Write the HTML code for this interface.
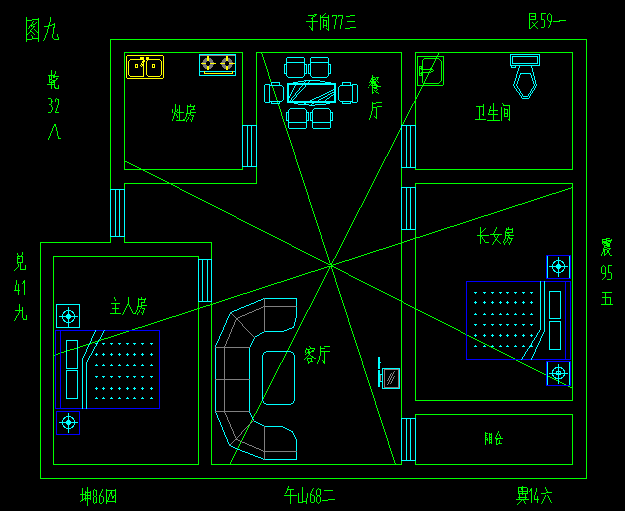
<!DOCTYPE html>
<html><head><meta charset="utf-8"><style>
html,body{margin:0;padding:0;background:#000;width:625px;height:511px;overflow:hidden}
svg{display:block}
</style></head><body>
<svg width="625" height="511" viewBox="0 0 625 511" fill="none" stroke-width="1" stroke-linecap="square" shape-rendering="crispEdges">
<rect width="625" height="511" fill="#000"/>
<path d="M261,52v2h1v-2zM262,54v3h1v-3zM263,57v3h1v-3zM264,60v3h1v-3zM265,63v3h1v-3zM266,66v3h1v-3zM267,69v3h1v-3zM268,72v4h1v-4zM269,76v3h1v-3zM270,79v3h1v-3zM271,82v3h1v-3zM272,85v3h1v-3zM273,88v3h1v-3zM274,91v3h1v-3zM275,94v3h1v-3zM276,97v3h1v-3zM277,100v3h1v-3zM278,103v3h1v-3zM279,106v3h1v-3zM280,109v3h1v-3zM281,112v4h1v-4zM282,116v3h1v-3zM283,119v3h1v-3zM284,122v3h1v-3zM285,125v3h1v-3zM286,128v3h1v-3zM287,131v3h1v-3zM288,134v3h1v-3zM289,137v3h1v-3zM290,140v3h1v-3zM291,143v3h1v-3zM292,146v3h1v-3zM293,149v3h1v-3zM294,152v3h1v-3zM295,155v4h1v-4zM296,159v3h1v-3zM297,162v3h1v-3zM298,165v3h1v-3zM299,168v3h1v-3zM300,171v3h1v-3zM301,174v3h1v-3zM302,177v3h1v-3zM303,180v3h1v-3zM304,183v3h1v-3zM305,186v3h1v-3zM306,189v3h1v-3zM307,192v3h1v-3zM308,195v4h1v-4zM309,199v3h1v-3zM310,202v3h1v-3zM311,205v3h1v-3zM312,208v3h1v-3zM313,211v3h1v-3zM314,214v3h1v-3zM315,217v3h1v-3zM316,220v3h1v-3zM317,223v3h1v-3zM318,226v3h1v-3zM319,229v3h1v-3zM320,232v3h1v-3zM321,235v4h1v-4zM322,239v3h1v-3zM323,242v3h1v-3zM324,245v3h1v-3zM325,248v3h1v-3zM326,251v3h1v-3zM327,254v3h1v-3zM328,257v3h1v-3zM329,260v3h1v-3zM330,263v3h1v-3zM331,266v3h1v-3zM332,269v3h1v-3zM333,272v3h1v-3zM334,275v3h1v-3zM335,278v4h1v-4zM336,282v3h1v-3zM337,285v3h1v-3zM338,288v3h1v-3zM339,291v3h1v-3zM340,294v3h1v-3zM341,297v3h1v-3zM342,300v3h1v-3zM343,303v3h1v-3zM344,306v3h1v-3zM345,309v3h1v-3zM346,312v3h1v-3zM347,315v3h1v-3zM348,318v4h1v-4zM349,322v3h1v-3zM350,325v3h1v-3zM351,328v3h1v-3zM352,331v3h1v-3zM353,334v3h1v-3zM354,337v3h1v-3zM355,340v3h1v-3zM356,343v3h1v-3zM357,346v3h1v-3zM358,349v3h1v-3zM359,352v3h1v-3zM360,355v3h1v-3zM361,358v3h1v-3zM362,361v4h1v-4zM363,365v3h1v-3zM364,368v3h1v-3zM365,371v3h1v-3zM366,374v3h1v-3zM367,377v3h1v-3zM368,380v3h1v-3zM369,383v3h1v-3zM370,386v3h1v-3zM371,389v3h1v-3zM372,392v3h1v-3zM373,395v3h1v-3zM374,398v3h1v-3zM375,401v4h1v-4zM376,405v3h1v-3zM377,408v3h1v-3zM378,411v3h1v-3zM379,414v3h1v-3zM380,417v3h1v-3zM381,420v3h1v-3zM382,423v3h1v-3zM383,426v3h1v-3zM384,429v3h1v-3zM385,432v3h1v-3zM386,435v3h1v-3zM387,438v3h1v-3zM388,441v4h1v-4zM389,445v3h1v-3zM390,448v3h1v-3zM391,451v3h1v-3zM392,454v3h1v-3zM393,457v3h1v-3zM394,460v3h1v-3zM395,463v2h1v-2zM439,52v1h1v-1zM438,53v2h1v-2zM437,55v2h1v-2zM436,57v2h1v-2zM435,59v2h1v-2zM434,61v2h1v-2zM433,63v2h1v-2zM432,65v2h1v-2zM431,67v2h1v-2zM430,69v2h1v-2zM429,71v2h1v-2zM428,73v2h1v-2zM427,75v2h1v-2zM426,77v2h1v-2zM425,79v2h1v-2zM424,81v2h1v-2zM423,83v2h1v-2zM422,85v2h1v-2zM421,87v2h1v-2zM420,89v2h1v-2zM419,91v2h1v-2zM418,93v2h1v-2zM417,95v2h1v-2zM416,97v2h1v-2zM415,99v2h1v-2zM414,101v2h1v-2zM413,103v1h1v-1zM412,104v2h1v-2zM411,106v2h1v-2zM410,108v2h1v-2zM409,110v2h1v-2zM408,112v2h1v-2zM407,114v2h1v-2zM406,116v2h1v-2zM405,118v2h1v-2zM404,120v2h1v-2zM403,122v2h1v-2zM402,124v2h1v-2zM401,126v2h1v-2zM400,128v2h1v-2zM399,130v2h1v-2zM398,132v2h1v-2zM397,134v2h1v-2zM396,136v2h1v-2zM395,138v2h1v-2zM394,140v2h1v-2zM393,142v2h1v-2zM392,144v2h1v-2zM391,146v2h1v-2zM390,148v2h1v-2zM389,150v2h1v-2zM388,152v2h1v-2zM387,154v2h1v-2zM386,156v1h1v-1zM385,157v2h1v-2zM384,159v2h1v-2zM383,161v2h1v-2zM382,163v2h1v-2zM381,165v2h1v-2zM380,167v2h1v-2zM379,169v2h1v-2zM378,171v2h1v-2zM377,173v2h1v-2zM376,175v2h1v-2zM375,177v2h1v-2zM374,179v2h1v-2zM373,181v2h1v-2zM372,183v2h1v-2zM371,185v2h1v-2zM370,187v2h1v-2zM369,189v2h1v-2zM368,191v2h1v-2zM367,193v2h1v-2zM366,195v2h1v-2zM365,197v2h1v-2zM364,199v2h1v-2zM363,201v2h1v-2zM362,203v2h1v-2zM361,205v2h1v-2zM360,207v1h1v-1zM359,208v2h1v-2zM358,210v2h1v-2zM357,212v2h1v-2zM356,214v2h1v-2zM355,216v2h1v-2zM354,218v2h1v-2zM353,220v2h1v-2zM352,222v2h1v-2zM351,224v2h1v-2zM350,226v2h1v-2zM349,228v2h1v-2zM348,230v2h1v-2zM347,232v2h1v-2zM346,234v2h1v-2zM345,236v2h1v-2zM344,238v2h1v-2zM343,240v2h1v-2zM342,242v2h1v-2zM341,244v2h1v-2zM340,246v2h1v-2zM339,248v2h1v-2zM338,250v2h1v-2zM337,252v2h1v-2zM336,254v2h1v-2zM335,256v2h1v-2zM334,258v1h1v-1zM333,259v2h1v-2zM332,261v2h1v-2zM331,263v2h1v-2zM330,265v2h1v-2zM329,267v2h1v-2zM328,269v2h1v-2zM327,271v2h1v-2zM326,273v2h1v-2zM325,275v2h1v-2zM324,277v2h1v-2zM323,279v2h1v-2zM322,281v2h1v-2zM321,283v2h1v-2zM320,285v2h1v-2zM319,287v2h1v-2zM318,289v2h1v-2zM317,291v2h1v-2zM316,293v2h1v-2zM315,295v2h1v-2zM314,297v2h1v-2zM313,299v2h1v-2zM312,301v2h1v-2zM311,303v2h1v-2zM310,305v2h1v-2zM309,307v2h1v-2zM308,309v1h1v-1zM307,310v2h1v-2zM306,312v2h1v-2zM305,314v2h1v-2zM304,316v2h1v-2zM303,318v2h1v-2zM302,320v2h1v-2zM301,322v2h1v-2zM300,324v2h1v-2zM299,326v2h1v-2zM298,328v2h1v-2zM297,330v2h1v-2zM296,332v2h1v-2zM295,334v2h1v-2zM294,336v2h1v-2zM293,338v2h1v-2zM292,340v2h1v-2zM291,342v2h1v-2zM290,344v2h1v-2zM289,346v2h1v-2zM288,348v2h1v-2zM287,350v2h1v-2zM286,352v2h1v-2zM285,354v2h1v-2zM284,356v2h1v-2zM283,358v2h1v-2zM282,360v2h1v-2zM281,362v1h1v-1zM280,363v2h1v-2zM279,365v2h1v-2zM278,367v2h1v-2zM277,369v2h1v-2zM276,371v2h1v-2zM275,373v2h1v-2zM274,375v2h1v-2zM273,377v2h1v-2zM272,379v2h1v-2zM271,381v2h1v-2zM270,383v2h1v-2zM269,385v2h1v-2zM268,387v2h1v-2zM267,389v2h1v-2zM266,391v2h1v-2zM265,393v2h1v-2zM264,395v2h1v-2zM263,397v2h1v-2zM262,399v2h1v-2zM261,401v2h1v-2zM260,403v2h1v-2zM259,405v2h1v-2zM258,407v2h1v-2zM257,409v2h1v-2zM256,411v2h1v-2zM255,413v1h1v-1zM254,414v2h1v-2zM253,416v2h1v-2zM252,418v2h1v-2zM251,420v2h1v-2zM250,422v2h1v-2zM249,424v2h1v-2zM248,426v2h1v-2zM247,428v2h1v-2zM246,430v2h1v-2zM245,432v2h1v-2zM244,434v2h1v-2zM243,436v2h1v-2zM242,438v2h1v-2zM241,440v2h1v-2zM240,442v2h1v-2zM239,444v2h1v-2zM238,446v2h1v-2zM237,448v2h1v-2zM236,450v2h1v-2zM235,452v2h1v-2zM234,454v2h1v-2zM233,456v2h1v-2zM232,458v2h1v-2zM231,460v2h1v-2zM230,462v2h1v-2zM229,464v1h1v-1zM124,160h1v1h-1zM125,161h2v1h-2zM127,162h2v1h-2zM129,163h2v1h-2zM131,164h2v1h-2zM133,165h2v1h-2zM135,166h2v1h-2zM137,167h2v1h-2zM139,168h2v1h-2zM141,169h2v1h-2zM143,170h2v1h-2zM145,171h2v1h-2zM147,172h2v1h-2zM149,173h2v1h-2zM151,174h2v1h-2zM153,175h2v1h-2zM155,176h2v1h-2zM157,177h2v1h-2zM159,178h2v1h-2zM161,179h2v1h-2zM163,180h2v1h-2zM165,181h2v1h-2zM167,182h2v1h-2zM169,183h2v1h-2zM171,184h2v1h-2zM173,185h2v1h-2zM175,186h2v1h-2zM177,187h2v1h-2zM179,188h1v1h-1zM180,189h2v1h-2zM182,190h2v1h-2zM184,191h2v1h-2zM186,192h2v1h-2zM188,193h2v1h-2zM190,194h2v1h-2zM192,195h2v1h-2zM194,196h2v1h-2zM196,197h2v1h-2zM198,198h2v1h-2zM200,199h2v1h-2zM202,200h2v1h-2zM204,201h2v1h-2zM206,202h2v1h-2zM208,203h2v1h-2zM210,204h2v1h-2zM212,205h2v1h-2zM214,206h2v1h-2zM216,207h2v1h-2zM218,208h2v1h-2zM220,209h2v1h-2zM222,210h2v1h-2zM224,211h2v1h-2zM226,212h2v1h-2zM228,213h2v1h-2zM230,214h2v1h-2zM232,215h2v1h-2zM234,216h2v1h-2zM236,217h1v1h-1zM237,218h2v1h-2zM239,219h2v1h-2zM241,220h2v1h-2zM243,221h2v1h-2zM245,222h2v1h-2zM247,223h2v1h-2zM249,224h2v1h-2zM251,225h2v1h-2zM253,226h2v1h-2zM255,227h2v1h-2zM257,228h2v1h-2zM259,229h2v1h-2zM261,230h2v1h-2zM263,231h2v1h-2zM265,232h2v1h-2zM267,233h2v1h-2zM269,234h2v1h-2zM271,235h2v1h-2zM273,236h2v1h-2zM275,237h2v1h-2zM277,238h2v1h-2zM279,239h2v1h-2zM281,240h2v1h-2zM283,241h2v1h-2zM285,242h2v1h-2zM287,243h2v1h-2zM289,244h2v1h-2zM291,245h1v1h-1zM292,246h2v1h-2zM294,247h2v1h-2zM296,248h2v1h-2zM298,249h2v1h-2zM300,250h2v1h-2zM302,251h2v1h-2zM304,252h2v1h-2zM306,253h2v1h-2zM308,254h2v1h-2zM310,255h2v1h-2zM312,256h2v1h-2zM314,257h2v1h-2zM316,258h2v1h-2zM318,259h2v1h-2zM320,260h2v1h-2zM322,261h2v1h-2zM324,262h2v1h-2zM326,263h2v1h-2zM328,264h2v1h-2zM330,265h2v1h-2zM332,266h2v1h-2zM334,267h2v1h-2zM336,268h2v1h-2zM338,269h2v1h-2zM340,270h2v1h-2zM342,271h2v1h-2zM344,272h2v1h-2zM346,273h2v1h-2zM348,274h1v1h-1zM349,275h2v1h-2zM351,276h2v1h-2zM353,277h2v1h-2zM355,278h2v1h-2zM357,279h2v1h-2zM359,280h2v1h-2zM361,281h2v1h-2zM363,282h2v1h-2zM365,283h2v1h-2zM367,284h2v1h-2zM369,285h2v1h-2zM371,286h2v1h-2zM373,287h2v1h-2zM375,288h2v1h-2zM377,289h2v1h-2zM379,290h2v1h-2zM381,291h2v1h-2zM383,292h2v1h-2zM385,293h2v1h-2zM387,294h2v1h-2zM389,295h2v1h-2zM391,296h2v1h-2zM393,297h2v1h-2zM395,298h2v1h-2zM397,299h2v1h-2zM399,300h2v1h-2zM401,301h2v1h-2zM403,302h1v1h-1zM404,303h2v1h-2zM406,304h2v1h-2zM408,305h2v1h-2zM410,306h2v1h-2zM412,307h2v1h-2zM414,308h2v1h-2zM416,309h2v1h-2zM418,310h2v1h-2zM420,311h2v1h-2zM422,312h2v1h-2zM424,313h2v1h-2zM426,314h2v1h-2zM428,315h2v1h-2zM430,316h2v1h-2zM432,317h2v1h-2zM434,318h2v1h-2zM436,319h2v1h-2zM438,320h2v1h-2zM440,321h2v1h-2zM442,322h2v1h-2zM444,323h2v1h-2zM446,324h2v1h-2zM448,325h2v1h-2zM450,326h2v1h-2zM452,327h2v1h-2zM454,328h2v1h-2zM456,329h2v1h-2zM458,330h2v1h-2zM460,331h1v1h-1zM461,332h2v1h-2zM463,333h2v1h-2zM465,334h2v1h-2zM467,335h2v1h-2zM469,336h2v1h-2zM471,337h2v1h-2zM473,338h2v1h-2zM475,339h2v1h-2zM477,340h2v1h-2zM479,341h2v1h-2zM481,342h2v1h-2zM483,343h2v1h-2zM485,344h2v1h-2zM487,345h2v1h-2zM489,346h2v1h-2zM491,347h2v1h-2zM493,348h2v1h-2zM495,349h2v1h-2zM497,350h2v1h-2zM499,351h2v1h-2zM501,352h2v1h-2zM503,353h2v1h-2zM505,354h2v1h-2zM507,355h2v1h-2zM509,356h2v1h-2zM511,357h2v1h-2zM513,358h2v1h-2zM515,359h1v1h-1zM516,360h2v1h-2zM518,361h2v1h-2zM520,362h2v1h-2zM522,363h2v1h-2zM524,364h2v1h-2zM526,365h2v1h-2zM528,366h2v1h-2zM530,367h2v1h-2zM532,368h2v1h-2zM534,369h2v1h-2zM536,370h2v1h-2zM538,371h2v1h-2zM540,372h2v1h-2zM542,373h2v1h-2zM544,374h2v1h-2zM546,375h2v1h-2zM548,376h2v1h-2zM550,377h2v1h-2zM552,378h2v1h-2zM554,379h2v1h-2zM556,380h2v1h-2zM558,381h2v1h-2zM560,382h2v1h-2zM562,383h2v1h-2zM564,384h2v1h-2zM566,385h2v1h-2zM568,386h2v1h-2zM570,387h2v1h-2zM572,388h1v1h-1zM53,355h2v1h-2zM55,354h3v1h-3zM58,353h3v1h-3zM61,352h3v1h-3zM64,351h3v1h-3zM67,350h3v1h-3zM70,349h4v1h-4zM74,348h3v1h-3zM77,347h3v1h-3zM80,346h3v1h-3zM83,345h3v1h-3zM86,344h3v1h-3zM89,343h3v1h-3zM92,342h3v1h-3zM95,341h3v1h-3zM98,340h3v1h-3zM101,339h3v1h-3zM104,338h4v1h-4zM108,337h3v1h-3zM111,336h3v1h-3zM114,335h3v1h-3zM117,334h3v1h-3zM120,333h3v1h-3zM123,332h3v1h-3zM126,331h3v1h-3zM129,330h3v1h-3zM132,329h3v1h-3zM135,328h3v1h-3zM138,327h4v1h-4zM142,326h3v1h-3zM145,325h3v1h-3zM148,324h3v1h-3zM151,323h3v1h-3zM154,322h3v1h-3zM157,321h3v1h-3zM160,320h3v1h-3zM163,319h3v1h-3zM166,318h3v1h-3zM169,317h3v1h-3zM172,316h4v1h-4zM176,315h3v1h-3zM179,314h3v1h-3zM182,313h3v1h-3zM185,312h3v1h-3zM188,311h3v1h-3zM191,310h3v1h-3zM194,309h3v1h-3zM197,308h3v1h-3zM200,307h3v1h-3zM203,306h3v1h-3zM206,305h4v1h-4zM210,304h3v1h-3zM213,303h3v1h-3zM216,302h3v1h-3zM219,301h3v1h-3zM222,300h3v1h-3zM225,299h3v1h-3zM228,298h3v1h-3zM231,297h3v1h-3zM234,296h3v1h-3zM237,295h3v1h-3zM240,294h3v1h-3zM243,293h4v1h-4zM247,292h3v1h-3zM250,291h3v1h-3zM253,290h3v1h-3zM256,289h3v1h-3zM259,288h3v1h-3zM262,287h3v1h-3zM265,286h3v1h-3zM268,285h3v1h-3zM271,284h3v1h-3zM274,283h3v1h-3zM277,282h4v1h-4zM281,281h3v1h-3zM284,280h3v1h-3zM287,279h3v1h-3zM290,278h3v1h-3zM293,277h3v1h-3zM296,276h3v1h-3zM299,275h3v1h-3zM302,274h3v1h-3zM305,273h3v1h-3zM308,272h3v1h-3zM311,271h4v1h-4zM315,270h3v1h-3zM318,269h3v1h-3zM321,268h3v1h-3zM324,267h3v1h-3zM327,266h3v1h-3zM330,265h3v1h-3zM333,264h3v1h-3zM336,263h3v1h-3zM339,262h3v1h-3zM342,261h3v1h-3zM345,260h4v1h-4zM349,259h3v1h-3zM352,258h3v1h-3zM355,257h3v1h-3zM358,256h3v1h-3zM361,255h3v1h-3zM364,254h3v1h-3zM367,253h3v1h-3zM370,252h3v1h-3zM373,251h3v1h-3zM376,250h3v1h-3zM379,249h4v1h-4zM383,248h3v1h-3zM386,247h3v1h-3zM389,246h3v1h-3zM392,245h3v1h-3zM395,244h3v1h-3zM398,243h3v1h-3zM401,242h3v1h-3zM404,241h3v1h-3zM407,240h3v1h-3zM410,239h3v1h-3zM413,238h3v1h-3zM416,237h4v1h-4zM420,236h3v1h-3zM423,235h3v1h-3zM426,234h3v1h-3zM429,233h3v1h-3zM432,232h3v1h-3zM435,231h3v1h-3zM438,230h3v1h-3zM441,229h3v1h-3zM444,228h3v1h-3zM447,227h3v1h-3zM450,226h4v1h-4zM454,225h3v1h-3zM457,224h3v1h-3zM460,223h3v1h-3zM463,222h3v1h-3zM466,221h3v1h-3zM469,220h3v1h-3zM472,219h3v1h-3zM475,218h3v1h-3zM478,217h3v1h-3zM481,216h3v1h-3zM484,215h4v1h-4zM488,214h3v1h-3zM491,213h3v1h-3zM494,212h3v1h-3zM497,211h3v1h-3zM500,210h3v1h-3zM503,209h3v1h-3zM506,208h3v1h-3zM509,207h3v1h-3zM512,206h3v1h-3zM515,205h3v1h-3zM518,204h4v1h-4zM522,203h3v1h-3zM525,202h3v1h-3zM528,201h3v1h-3zM531,200h3v1h-3zM534,199h3v1h-3zM537,198h3v1h-3zM540,197h3v1h-3zM543,196h3v1h-3zM546,195h3v1h-3zM549,194h3v1h-3zM552,193h4v1h-4zM556,192h3v1h-3zM559,191h3v1h-3zM562,190h3v1h-3zM565,189h3v1h-3zM568,188h3v1h-3zM571,187h2v1h-2z" fill="#00ff00" stroke="none"/>
<path d="M127,55h36v1h-36zM130,59h14v1h-14zM148,59h12v1h-12zM129,60h1v1h-1zM160,60h1v1h-1zM147,60h1v1h-1zM143,60h2v1h-2zM142,61h3v1h-3zM142,62h2v1h-2zM143,63h1v1h-1zM141,63h1v1h-1zM141,64h3v1h-3zM152,64h3v1h-3zM135,64h3v1h-3zM142,65h2v1h-2zM140,65h1v1h-1zM152,65h1v2h-1zM154,65h1v2h-1zM135,65h1v2h-1zM137,65h1v2h-1zM141,66h1v1h-1zM152,67h3v1h-3zM135,67h3v1h-3zM161,61h1v14h-1zM146,61h1v14h-1zM128,61h1v14h-1zM143,66h1v10h-1zM129,75h1v1h-1zM160,75h1v1h-1zM147,75h1v1h-1zM130,76h14v1h-14zM148,76h12v1h-12zM126,56h1v22h-1zM163,56h1v22h-1zM127,78h36v1h-36z" fill="#ffff00"/>
<rect x="140" y="57" width="4" height="3" fill="#ffff00"/><rect x="146" y="57" width="3" height="3" fill="#ffff00"/>
<path d="M199,54h37v1h-37zM235,55h1v16h-1zM199,55h1v16h-1zM199,71h37v1h-37zM235,72h1v3h-1zM199,72h1v3h-1zM199,75h37v1h-37z" fill="#00ffff"/>
<path d="M200,55h35v1h-35z" fill="#a08080"/>
<circle cx="208" cy="63.5" r="5.8" fill="#787878"/>
<rect x="207" y="56" width="2" height="14" fill="#ffff00"/>
<path d="M201,63h15v1h-15z" fill="#ffff00"/>
<circle cx="208" cy="63.5" r="2.4" fill="#000"/>
<circle cx="227" cy="63.5" r="5.8" fill="#787878"/>
<rect x="226" y="56" width="2" height="14" fill="#ffff00"/>
<path d="M220,63h15v1h-15z" fill="#ffff00"/>
<circle cx="227" cy="63.5" r="2.4" fill="#000"/>
<path d="M204,71h1v2h-1zM232,71h1v2h-1zM204,73h29v1h-29z" fill="#ffff00"/>
<path d="M287,57h17v1h-17zM311,57h17v1h-17zM286,58h1v4h-1zM310,58h1v4h-1zM304,58h1v4h-1zM328,58h1v4h-1zM286,62h19v1h-19zM310,62h19v1h-19zM286,63h1v1h-1zM310,63h1v1h-1zM304,63h1v1h-1zM328,63h1v1h-1zM304,64h3v1h-3zM328,64h3v1h-3zM284,64h3v1h-3zM308,64h3v1h-3zM310,65h1v8h-1zM286,65h1v8h-1zM330,65h1v8h-1zM306,65h1v8h-1zM328,65h1v8h-1zM308,65h1v8h-1zM284,65h1v8h-1zM304,65h1v8h-1zM304,73h3v1h-3zM328,73h3v1h-3zM284,73h3v1h-3zM308,73h3v1h-3zM286,74h1v2h-1zM310,74h1v2h-1zM304,74h1v2h-1zM328,74h1v2h-1zM303,76h1v1h-1zM287,76h1v1h-1zM311,76h1v1h-1zM327,76h1v1h-1zM288,77h15v1h-15zM312,77h15v1h-15zM342,82h9v1h-9zM271,82h9v1h-9zM350,83h1v2h-1zM279,83h1v2h-1zM342,83h1v2h-1zM271,83h1v2h-1zM352,84h5v1h-5zM265,84h5v1h-5zM269,85h13v1h-13zM340,85h13v1h-13zM339,86h1v1h-1zM282,86h1v1h-1zM283,87h1v13h-1zM338,87h1v13h-1zM269,86h1v15h-1zM352,86h1v15h-1zM339,100h1v1h-1zM282,100h1v1h-1zM357,85h1v17h-1zM264,85h1v17h-1zM269,101h13v1h-13zM340,101h13v1h-13zM271,102h1v1h-1zM350,102h1v1h-1zM279,102h1v1h-1zM352,102h5v1h-5zM265,102h5v1h-5zM342,102h1v1h-1zM342,103h9v1h-9zM271,103h9v1h-9zM290,108h15v1h-15zM314,108h15v1h-15zM313,109h1v1h-1zM329,109h1v1h-1zM289,109h1v1h-1zM305,109h1v1h-1zM330,110h1v2h-1zM288,110h1v2h-1zM312,110h1v2h-1zM306,110h1v2h-1zM306,112h3v1h-3zM286,112h3v1h-3zM310,112h3v1h-3zM330,112h3v1h-3zM310,113h1v7h-1zM312,113h1v7h-1zM286,113h1v7h-1zM332,113h1v7h-1zM306,113h1v7h-1zM308,113h1v7h-1zM288,113h1v7h-1zM330,113h1v7h-1zM306,120h3v1h-3zM286,120h3v1h-3zM310,120h3v1h-3zM330,120h3v1h-3zM330,121h1v1h-1zM288,121h1v1h-1zM312,121h1v1h-1zM306,121h1v1h-1zM288,122h19v1h-19zM312,122h19v1h-19zM330,123h1v5h-1zM288,123h1v5h-1zM312,123h1v5h-1zM306,123h1v5h-1zM289,128h17v1h-17zM313,128h17v1h-17z" fill="#00ffff"/>
<path d="M304,80h16v1h-16zM320,81h5v1h-5zM298,81h6v1h-6zM305,81h1v1h-1zM309,81h1v1h-1zM308,82h1v1h-1zM325,82h6v1h-6zM293,82h5v1h-5zM304,82h1v1h-1zM287,83h49v2h-49zM295,85h1v1h-1zM302,85h1v1h-1zM305,85h1v2h-1zM301,86h1v1h-1zM294,86h1v2h-1zM300,87h1v1h-1zM304,87h1v1h-1zM334,85h2v4h-2zM303,88h1v1h-1zM293,88h1v2h-1zM299,88h1v2h-1zM333,89h3v1h-3zM302,89h1v1h-1zM331,90h2v1h-2zM301,90h1v1h-1zM298,90h1v1h-1zM334,90h2v2h-2zM292,90h1v2h-1zM297,91h1v1h-1zM329,91h2v1h-2zM300,91h1v1h-1zM296,92h1v1h-1zM332,92h4v1h-4zM327,92h2v1h-2zM299,92h1v1h-1zM291,92h1v2h-1zM334,93h2v1h-2zM330,93h2v1h-2zM298,93h1v1h-1zM325,93h2v1h-2zM295,93h1v2h-1zM297,94h1v1h-1zM333,94h3v1h-3zM328,94h2v1h-2zM323,94h2v1h-2zM287,85h2v11h-2zM290,94h1v2h-1zM294,95h1v1h-1zM331,95h2v1h-2zM321,95h2v1h-2zM327,95h1v1h-1zM296,95h1v2h-1zM293,96h1v1h-1zM330,96h1v1h-1zM319,96h2v1h-2zM325,96h2v1h-2zM287,96h3v2h-3zM295,97h1v1h-1zM292,97h1v1h-1zM316,97h3v1h-3zM323,97h2v1h-2zM329,97h1v1h-1zM294,98h1v1h-1zM321,98h2v1h-2zM314,98h2v1h-2zM327,98h2v1h-2zM291,98h1v2h-1zM326,99h1v1h-1zM293,99h1v1h-1zM319,99h2v1h-2zM312,99h2v1h-2zM334,95h2v6h-2zM287,98h2v3h-2zM290,100h1v1h-1zM325,100h1v1h-1zM318,100h1v1h-1zM292,100h1v1h-1zM310,100h2v1h-2zM287,101h49v2h-49zM304,103h2v1h-2zM312,103h2v1h-2zM326,103h4v1h-4zM294,103h4v1h-4zM298,104h11v1h-11zM311,104h1v1h-1zM315,104h11v1h-11zM309,105h6v1h-6z" fill="#00ffff"/>
<path d="M417,56h27v1h-27zM424,58h15v1h-15zM439,59h1v1h-1zM423,59h1v1h-1zM440,60h1v1h-1zM422,60h1v6h-1zM419,66h4v1h-4zM419,67h1v1h-1zM421,67h2v1h-2zM419,68h4v1h-4zM430,68h1v1h-1zM431,69h2v1h-2zM421,69h9v1h-9zM433,70h1v1h-1zM422,70h1v2h-1zM431,71h2v1h-2zM419,69h1v4h-1zM421,72h10v1h-10zM419,73h4v1h-4zM419,74h1v1h-1zM421,74h2v1h-2zM419,75h4v1h-4zM441,61h1v20h-1zM440,81h1v1h-1zM422,76h1v7h-1zM439,82h1v1h-1zM423,83h16v1h-16zM417,57h1v28h-1zM443,57h1v28h-1zM417,85h26v1h-26z" fill="#00ff00"/>
<path d="M510,54h30v1h-30zM512,56h26v1h-26zM537,57h1v6h-1zM512,57h1v6h-1zM512,63h26v1h-26zM539,55h1v10h-1zM510,55h1v10h-1zM510,65h30v1h-30zM511,66h1v1h-1zM515,66h1v1h-1zM519,66h1v2h-1zM531,66h1v2h-1zM511,67h5v1h-5zM518,68h1v3h-1zM532,68h1v4h-1zM517,71h1v3h-1zM520,73h11v1h-11zM530,74h1v1h-1zM520,74h1v1h-1zM533,72h1v4h-1zM516,74h1v4h-1zM519,75h1v3h-1zM531,75h1v3h-1zM534,76h1v4h-1zM532,78h1v3h-1zM518,78h1v3h-1zM515,78h1v3h-1zM535,80h1v4h-1zM517,81h1v3h-1zM514,81h1v3h-1zM533,81h1v3h-1zM513,84h1v2h-1zM536,84h1v2h-1zM534,84h1v2h-1zM516,84h1v2h-1zM535,86h1v2h-1zM517,86h1v2h-1zM514,86h1v2h-1zM533,86h1v2h-1zM532,88h1v1h-1zM518,88h1v1h-1zM515,88h1v1h-1zM534,88h1v2h-1zM519,89h1v2h-1zM516,89h1v2h-1zM531,89h1v2h-1zM533,90h1v1h-1zM517,91h1v1h-1zM530,91h1v2h-1zM532,91h1v2h-1zM520,91h1v2h-1zM518,92h1v1h-1zM521,93h1v1h-1zM529,93h1v1h-1zM531,93h1v1h-1zM519,93h1v2h-1zM528,94h1v2h-1zM530,94h1v2h-1zM522,94h1v2h-1zM520,95h1v1h-1zM523,96h5v1h-5zM521,96h1v2h-1zM529,96h1v2h-1zM522,98h7v1h-7z" fill="#00ffff"/>
<path d="M55,330h105v1h-105zM60,331h1v77h-1zM55,331h1v77h-1zM159,331h1v77h-1zM55,408h105v1h-105z" fill="#0000ff"/>
<path d="M104,330h1v1h-1zM95,330h1v2h-1zM103,331h1v2h-1zM94,332h1v2h-1zM102,333h1v2h-1zM93,334h1v2h-1zM101,335h1v2h-1zM92,336h1v2h-1zM100,337h1v2h-1zM99,339h1v1h-1zM91,338h1v3h-1zM66,340h12v1h-12zM98,340h1v2h-1zM90,341h1v2h-1zM97,342h1v1h-1zM141,343h3v1h-3zM150,343h3v1h-3zM118,343h3v1h-3zM102,343h3v1h-3zM95,343h3v1h-3zM133,343h3v1h-3zM126,343h3v1h-3zM110,343h3v1h-3zM89,343h1v2h-1zM142,344h1v1h-1zM134,344h1v1h-1zM119,344h1v1h-1zM103,344h1v1h-1zM151,344h1v1h-1zM127,344h1v1h-1zM111,344h1v1h-1zM96,344h1v2h-1zM88,345h1v2h-1zM95,346h1v1h-1zM94,347h1v2h-1zM87,347h1v2h-1zM93,349h1v2h-1zM86,349h1v3h-1zM92,351h1v2h-1zM85,352h1v2h-1zM142,353h1v1h-1zM134,353h1v1h-1zM119,353h1v1h-1zM103,353h1v1h-1zM151,353h1v1h-1zM96,353h1v1h-1zM127,353h1v1h-1zM111,353h1v1h-1zM91,353h1v2h-1zM141,354h3v1h-3zM150,354h3v1h-3zM118,354h3v1h-3zM102,354h3v1h-3zM95,354h3v1h-3zM133,354h3v1h-3zM126,354h3v1h-3zM110,354h3v1h-3zM84,354h1v2h-1zM142,355h1v1h-1zM134,355h1v1h-1zM119,355h1v1h-1zM90,355h1v1h-1zM103,355h1v1h-1zM151,355h1v1h-1zM96,355h1v1h-1zM127,355h1v1h-1zM111,355h1v1h-1zM83,356h1v2h-1zM89,356h1v2h-1zM88,358h1v2h-1zM87,360h1v2h-1zM142,364h1v1h-1zM134,364h1v1h-1zM119,364h1v1h-1zM103,364h1v1h-1zM151,364h1v1h-1zM96,364h1v1h-1zM127,364h1v1h-1zM111,364h1v1h-1zM141,365h3v1h-3zM150,365h3v1h-3zM118,365h3v1h-3zM102,365h3v1h-3zM95,365h3v1h-3zM133,365h3v1h-3zM110,365h3v1h-3zM126,365h3v1h-3zM77,341h1v27h-1zM66,341h1v27h-1zM66,368h12v1h-12zM66,370h12v1h-12zM141,376h3v1h-3zM150,376h3v1h-3zM118,376h3v1h-3zM102,376h3v1h-3zM95,376h3v1h-3zM133,376h3v1h-3zM110,376h3v1h-3zM126,376h3v1h-3zM142,377h1v1h-1zM134,377h1v1h-1zM119,377h1v1h-1zM103,377h1v1h-1zM151,377h1v1h-1zM96,377h1v1h-1zM127,377h1v1h-1zM111,377h1v1h-1zM142,387h1v1h-1zM134,387h1v1h-1zM119,387h1v1h-1zM103,387h1v1h-1zM151,387h1v1h-1zM96,387h1v1h-1zM127,387h1v1h-1zM111,387h1v1h-1zM141,388h3v1h-3zM150,388h3v1h-3zM118,388h3v1h-3zM102,388h3v1h-3zM95,388h3v1h-3zM133,388h3v1h-3zM110,388h3v1h-3zM126,388h3v1h-3zM142,389h1v1h-1zM134,389h1v1h-1zM119,389h1v1h-1zM103,389h1v1h-1zM151,389h1v1h-1zM96,389h1v1h-1zM127,389h1v1h-1zM111,389h1v1h-1zM77,371h1v27h-1zM66,371h1v27h-1zM142,397h1v1h-1zM134,397h1v1h-1zM119,397h1v1h-1zM103,397h1v1h-1zM151,397h1v1h-1zM96,397h1v1h-1zM127,397h1v1h-1zM111,397h1v1h-1zM141,398h3v1h-3zM150,398h3v1h-3zM118,398h3v1h-3zM102,398h3v1h-3zM66,398h12v1h-12zM95,398h3v1h-3zM133,398h3v1h-3zM126,398h3v1h-3zM110,398h3v1h-3zM82,358h1v51h-1zM86,362h1v47h-1z" fill="#00ffff"/>
<path d="M56,304h24v1h-24zM79,305h1v22h-1zM56,305h1v22h-1zM56,327h24v1h-24z" fill="#00ffff"/>
<path d="M68,307h1v3h-1zM66,310h5v1h-5zM71,311h2v1h-2zM64,311h2v1h-2zM72,312h2v1h-2zM63,312h2v1h-2zM68,311h1v3h-1zM63,313h1v1h-1zM73,313h1v1h-1zM67,314h3v1h-3zM74,314h1v2h-1zM62,314h1v2h-1zM66,315h5v1h-5zM59,316h19v1h-19zM66,317h5v1h-5zM62,317h1v2h-1zM74,317h1v2h-1zM67,318h3v1h-3zM63,319h1v1h-1zM73,319h1v1h-1zM72,320h2v1h-2zM63,320h2v1h-2zM68,319h1v3h-1zM71,321h2v1h-2zM64,321h2v1h-2zM66,322h5v1h-5zM68,323h1v4h-1z" fill="#00ffff"/>
<path d="M56,411h24v1h-24zM79,412h1v22h-1zM56,412h1v22h-1zM56,434h24v1h-24z" fill="#0000ff"/>
<path d="M68,413h1v3h-1zM66,416h5v1h-5zM71,417h2v1h-2zM64,417h2v1h-2zM72,418h2v1h-2zM63,418h2v1h-2zM68,417h1v3h-1zM63,419h1v1h-1zM73,419h1v1h-1zM67,420h3v1h-3zM74,420h1v2h-1zM62,420h1v2h-1zM66,421h5v1h-5zM59,422h19v1h-19zM66,423h5v1h-5zM62,423h1v2h-1zM74,423h1v2h-1zM67,424h3v1h-3zM63,425h1v1h-1zM73,425h1v1h-1zM72,426h2v1h-2zM63,426h2v1h-2zM68,425h1v3h-1zM71,427h2v1h-2zM64,427h2v1h-2zM66,428h5v1h-5zM68,429h1v4h-1z" fill="#00ffff"/>
<path d="M466,281h105v1h-105zM565,282h1v77h-1zM466,282h1v77h-1zM570,282h1v77h-1zM466,359h105v1h-105z" fill="#0000ff"/>
<path d="M549,291h12v1h-12zM491,292h3v1h-3zM474,292h3v1h-3zM522,292h3v1h-3zM506,292h3v1h-3zM499,292h3v1h-3zM483,292h3v1h-3zM530,292h3v1h-3zM514,292h3v1h-3zM492,293h1v1h-1zM475,293h1v1h-1zM515,293h1v1h-1zM523,293h1v1h-1zM507,293h1v1h-1zM500,293h1v1h-1zM484,293h1v1h-1zM531,293h1v1h-1zM492,301h1v1h-1zM475,301h1v1h-1zM515,301h1v1h-1zM523,301h1v1h-1zM507,301h1v1h-1zM500,301h1v1h-1zM484,301h1v1h-1zM531,301h1v1h-1zM491,302h3v1h-3zM474,302h3v1h-3zM522,302h3v1h-3zM506,302h3v1h-3zM499,302h3v1h-3zM483,302h3v1h-3zM530,302h3v1h-3zM514,302h3v1h-3zM492,303h1v1h-1zM475,303h1v1h-1zM515,303h1v1h-1zM523,303h1v1h-1zM507,303h1v1h-1zM500,303h1v1h-1zM484,303h1v1h-1zM531,303h1v1h-1zM492,313h1v1h-1zM475,313h1v1h-1zM515,313h1v1h-1zM523,313h1v1h-1zM507,313h1v1h-1zM500,313h1v1h-1zM484,313h1v1h-1zM531,313h1v1h-1zM491,314h3v1h-3zM474,314h3v1h-3zM522,314h3v1h-3zM506,314h3v1h-3zM499,314h3v1h-3zM483,314h3v1h-3zM530,314h3v1h-3zM514,314h3v1h-3zM560,292h1v26h-1zM549,292h1v26h-1zM549,318h12v1h-12zM549,321h12v1h-12zM491,324h3v1h-3zM474,324h3v1h-3zM522,324h3v1h-3zM506,324h3v1h-3zM499,324h3v1h-3zM483,324h3v1h-3zM530,324h3v1h-3zM514,324h3v1h-3zM492,325h1v1h-1zM475,325h1v1h-1zM515,325h1v1h-1zM523,325h1v1h-1zM507,325h1v1h-1zM500,325h1v1h-1zM484,325h1v1h-1zM531,325h1v1h-1zM540,281h1v49h-1zM544,281h1v51h-1zM539,330h1v2h-1zM538,332h1v1h-1zM543,332h1v2h-1zM537,333h1v2h-1zM492,334h1v1h-1zM475,334h1v1h-1zM515,334h1v1h-1zM523,334h1v1h-1zM507,334h1v1h-1zM500,334h1v1h-1zM484,334h1v1h-1zM531,334h1v1h-1zM542,334h1v2h-1zM491,335h3v1h-3zM474,335h3v1h-3zM522,335h3v1h-3zM506,335h3v1h-3zM499,335h3v1h-3zM483,335h3v1h-3zM530,335h3v1h-3zM514,335h3v1h-3zM536,335h1v2h-1zM492,336h1v1h-1zM475,336h1v1h-1zM515,336h1v1h-1zM523,336h1v1h-1zM507,336h1v1h-1zM500,336h1v1h-1zM484,336h1v1h-1zM531,336h1v1h-1zM541,336h1v2h-1zM535,337h1v1h-1zM534,338h1v2h-1zM540,338h1v3h-1zM533,340h1v1h-1zM539,341h1v2h-1zM532,341h1v2h-1zM538,343h1v2h-1zM531,343h1v2h-1zM492,345h1v1h-1zM475,345h1v1h-1zM515,345h1v1h-1zM523,345h1v1h-1zM507,345h1v1h-1zM500,345h1v1h-1zM484,345h1v1h-1zM530,345h2v1h-2zM537,345h1v2h-1zM529,346h4v1h-4zM491,346h3v1h-3zM474,346h3v1h-3zM522,346h3v1h-3zM506,346h3v1h-3zM499,346h3v1h-3zM483,346h3v1h-3zM514,346h3v1h-3zM529,347h1v1h-1zM560,322h1v27h-1zM549,322h1v27h-1zM536,347h1v2h-1zM528,348h1v1h-1zM549,349h12v1h-12zM527,349h1v2h-1zM535,349h1v3h-1zM526,351h1v1h-1zM534,352h1v2h-1zM525,352h1v2h-1zM533,354h1v2h-1zM524,354h1v2h-1zM523,356h1v1h-1zM532,356h1v2h-1zM522,357h1v2h-1zM531,358h1v2h-1zM521,359h1v1h-1z" fill="#00ffff"/>
<path d="M546,255h25v1h-25zM570,256h1v22h-1zM546,256h1v22h-1zM546,278h25v1h-25z" fill="#0000ff"/>
<path d="M569,256h1v22h-1zM547,256h1v22h-1z" fill="#00ffff"/>
<path d="M558,257h1v3h-1zM556,260h5v1h-5zM561,261h2v1h-2zM554,261h2v1h-2zM562,262h2v1h-2zM553,262h2v1h-2zM558,261h1v3h-1zM563,263h1v1h-1zM553,263h1v1h-1zM557,264h3v1h-3zM552,264h1v2h-1zM564,264h1v2h-1zM556,265h5v1h-5zM549,266h19v1h-19zM556,267h5v1h-5zM552,267h1v2h-1zM564,267h1v2h-1zM557,268h3v1h-3zM563,269h1v1h-1zM553,269h1v1h-1zM562,270h2v1h-2zM553,270h2v1h-2zM558,269h1v3h-1zM561,271h2v1h-2zM554,271h2v1h-2zM556,272h5v1h-5zM558,273h1v4h-1z" fill="#00ffff"/>
<path d="M546,361h25v1h-25zM570,362h1v23h-1zM546,362h1v23h-1zM546,385h25v1h-25z" fill="#0000ff"/>
<path d="M569,362h1v23h-1zM547,362h1v23h-1z" fill="#00ffff"/>
<path d="M558,364h1v3h-1zM555,367h7v1h-7zM561,368h2v1h-2zM554,368h2v1h-2zM563,369h1v1h-1zM553,369h1v1h-1zM558,368h1v3h-1zM552,370h2v1h-2zM563,370h2v1h-2zM556,371h5v1h-5zM552,371h1v2h-1zM564,371h1v2h-1zM556,372h1v1h-1zM560,372h1v1h-1zM558,372h1v1h-1zM549,373h19v1h-19zM552,374h1v1h-1zM556,374h5v1h-5zM564,374h1v1h-1zM552,375h2v1h-2zM563,375h2v1h-2zM563,376h1v1h-1zM553,376h1v1h-1zM558,375h1v3h-1zM561,377h2v1h-2zM554,377h2v1h-2zM555,378h7v1h-7zM558,379h1v5h-1z" fill="#00ffff"/>
<path d="M263,298h34v1h-34zM261,299h2v1h-2zM258,300h3v1h-3zM256,301h2v1h-2zM254,302h2v1h-2zM251,303h3v1h-3zM249,304h2v1h-2zM246,305h3v1h-3zM244,306h2v1h-2zM241,307h3v1h-3zM239,308h2v1h-2zM237,309h2v1h-2zM234,310h3v1h-3zM232,311h2v1h-2zM230,312h2v1h-2zM230,313h1v1h-1zM229,314h1v2h-1zM296,299h1v19h-1zM228,316h1v2h-1zM227,318h1v2h-1zM295,318h1v4h-1zM226,320h1v3h-1zM225,323h1v2h-1zM294,322h1v4h-1zM224,325h1v2h-1zM293,326h1v1h-1zM292,327h2v1h-2zM289,328h3v1h-3zM223,327h1v3h-1zM287,329h2v1h-2zM284,330h3v1h-3zM222,330h1v2h-1zM264,331h20v1h-20zM262,332h2v1h-2zM221,332h1v2h-1zM260,333h2v1h-2zM259,334h1v1h-1zM220,334h1v2h-1zM257,335h2v1h-2zM255,336h2v1h-2zM219,336h1v3h-1zM254,337h1v2h-1zM253,339h1v2h-1zM218,339h1v2h-1zM252,341h1v2h-1zM217,341h1v2h-1zM251,343h1v2h-1zM216,343h1v2h-1zM250,345h1v2h-1zM215,345h1v68h-1zM249,347h1v66h-1zM250,413h1v2h-1zM216,413h1v2h-1zM251,415h1v2h-1zM217,415h1v3h-1zM252,417h1v2h-1zM218,418h1v2h-1zM253,419h1v2h-1zM219,420h1v2h-1zM254,421h2v1h-2zM256,422h2v1h-2zM258,423h2v1h-2zM220,422h1v3h-1zM260,424h2v1h-2zM262,425h2v1h-2zM221,425h1v2h-1zM264,426h19v1h-19zM283,427h2v1h-2zM285,428h2v1h-2zM222,427h1v3h-1zM287,429h2v1h-2zM289,430h2v1h-2zM223,430h1v2h-1zM291,431h2v1h-2zM292,432h1v1h-1zM224,432h1v3h-1zM293,433h1v2h-1zM294,435h1v2h-1zM225,435h1v2h-1zM226,437h1v2h-1zM295,437h1v2h-1zM227,439h1v3h-1zM228,442h1v2h-1zM229,444h1v1h-1zM229,445h2v1h-2zM231,446h2v1h-2zM233,447h2v1h-2zM235,448h2v1h-2zM237,449h3v1h-3zM240,450h2v1h-2zM242,451h3v1h-3zM245,452h3v1h-3zM248,453h2v1h-2zM250,454h3v1h-3zM253,455h2v1h-2zM255,456h3v1h-3zM258,457h3v1h-3zM296,439h1v20h-1zM261,458h2v1h-2zM263,459h34v1h-34z" fill="#00ffff"/>
<path d="M264,298h1v8h-1zM263,306h34v1h-34zM261,307h2v1h-2zM259,308h2v1h-2zM256,309h3v1h-3zM254,310h2v1h-2zM252,311h2v1h-2zM249,312h3v1h-3zM230,312h1v1h-1zM231,313h1v1h-1zM247,313h2v1h-2zM232,314h1v1h-1zM245,314h2v1h-2zM233,315h1v1h-1zM242,315h3v1h-3zM240,316h2v1h-2zM234,316h1v1h-1zM235,317h1v1h-1zM238,317h2v1h-2zM236,318h2v2h-2zM238,320h1v1h-1zM235,320h1v2h-1zM239,321h1v1h-1zM240,322h1v1h-1zM241,323h1v1h-1zM234,322h1v3h-1zM242,324h1v2h-1zM233,325h1v2h-1zM243,326h1v1h-1zM244,327h1v1h-1zM232,327h1v2h-1zM245,328h1v1h-1zM246,329h1v1h-1zM247,330h1v1h-1zM264,307h1v25h-1zM231,329h1v3h-1zM248,331h1v1h-1zM249,332h1v1h-1zM230,332h1v2h-1zM250,333h1v1h-1zM251,334h1v1h-1zM252,335h1v1h-1zM229,334h1v3h-1zM253,336h1v1h-1zM254,337h1v1h-1zM228,337h1v2h-1zM227,339h1v2h-1zM226,341h1v3h-1zM225,344h1v2h-1zM224,346h1v1h-1zM215,347h35v1h-35zM224,348h1v31h-1zM215,379h35v1h-35zM224,380h1v31h-1zM215,411h35v1h-35zM224,412h1v1h-1zM225,413h1v2h-1zM226,415h1v2h-1zM227,417h1v3h-1zM253,420h1v1h-1zM228,420h1v2h-1zM252,421h1v1h-1zM251,422h1v1h-1zM229,422h1v2h-1zM250,423h1v1h-1zM249,424h1v1h-1zM248,425h1v1h-1zM230,424h1v3h-1zM247,426h1v1h-1zM246,427h1v1h-1zM231,427h1v2h-1zM245,428h1v1h-1zM244,429h1v1h-1zM232,429h1v2h-1zM243,430h1v1h-1zM242,431h1v1h-1zM233,431h1v3h-1zM241,432h1v2h-1zM240,434h1v1h-1zM234,434h1v2h-1zM239,435h1v1h-1zM238,436h1v1h-1zM235,436h1v2h-1zM237,437h1v1h-1zM236,438h1v1h-1zM235,439h3v1h-3zM238,440h2v1h-2zM234,440h1v1h-1zM233,441h1v1h-1zM240,441h2v1h-2zM242,442h3v1h-3zM232,442h1v1h-1zM245,443h2v1h-2zM231,443h1v1h-1zM230,444h1v1h-1zM247,444h2v1h-2zM249,445h3v1h-3zM229,445h1v1h-1zM252,446h2v1h-2zM254,447h2v1h-2zM256,448h3v1h-3zM259,449h2v1h-2zM264,426h1v25h-1zM261,450h2v1h-2zM263,451h34v1h-34zM264,452h1v8h-1z" fill="#808080"/>
<path d="M266,351h25v1h-25zM264,352h2v1h-2zM291,352h2v1h-2zM263,353h1v2h-1zM293,353h1v2h-1zM294,355h1v46h-1zM262,355h1v46h-1zM263,401h1v2h-1zM293,401h1v2h-1zM264,403h2v1h-2zM291,403h2v1h-2zM266,404h25v1h-25z" fill="#00ffff"/>
<path d="M384,369h15v1h-15zM398,370h1v17h-1zM384,370h1v17h-1zM384,387h15v1h-15z" fill="#907878"/>
<path d="M394,371h1v1h-1zM393,372h1v2h-1zM391,373h1v1h-1zM390,374h1v2h-1zM392,374h1v2h-1zM394,376h1v1h-1zM389,376h1v2h-1zM391,376h1v2h-1zM393,377h1v2h-1zM390,378h1v2h-1zM388,378h1v2h-1zM392,379h1v2h-1zM387,380h1v1h-1zM389,380h1v2h-1zM391,381h1v2h-1zM388,382h1v2h-1zM390,383h1v1h-1zM387,384h1v1h-1z" fill="#808080"/>
<path d="M382,368h18v1h-18zM382,369h1v19h-1zM399,369h1v19h-1zM382,388h18v1h-18z" fill="#00ffff"/>
<rect x="378" y="357" width="2" height="12" fill="#00ffff"/><rect x="380" y="362" width="1" height="1" fill="#00ffff"/><rect x="380" y="375" width="1" height="6" fill="#907878"/><rect x="378" y="370" width="2" height="17" fill="#00ffff"/>
<path d="M380,374h3v1h-3zM380,381h3v1h-3z" fill="#00ffff"/>
<path d="M110,39h477v1h-477zM124,52h119v1h-119zM415,52h158v1h-158zM256,52h146v1h-146zM242,53h1v73h-1zM415,53h1v73h-1zM401,53h1v73h-1zM256,53h1v73h-1zM572,53h1v116h-1zM124,53h1v116h-1zM242,167h1v2h-1zM415,167h1v2h-1zM124,169h119v1h-119zM415,169h158v1h-158zM256,167h1v16h-1zM415,183h158v1h-158zM124,183h133v1h-133zM401,167h1v21h-1zM415,184h1v4h-1zM110,40h1v150h-1zM124,184h1v6h-1zM110,236h1v6h-1zM124,236h1v6h-1zM40,242h71v1h-71zM124,242h88v1h-88zM53,256h146v1h-146zM211,243h1v17h-1zM198,257h1v3h-1zM572,184h1v216h-1zM415,229h1v171h-1zM415,400h158v1h-158zM415,414h158v1h-158zM401,229h1v190h-1zM415,415h1v4h-1zM53,257h1v207h-1zM198,301h1v163h-1zM211,301h1v163h-1zM572,415h1v49h-1zM415,460h1v4h-1zM401,460h1v4h-1zM415,464h158v1h-158zM211,464h191v1h-191zM53,464h146v1h-146zM586,40h1v438h-1zM40,243h1v235h-1zM40,478h547v1h-547z" fill="#00ff00"/>
<path d="M401,125h15v1h-15zM242,125h15v1h-15zM242,126h1v40h-1zM251,126h1v40h-1zM247,126h1v40h-1zM256,126h1v40h-1zM406,126h1v41h-1zM415,126h1v41h-1zM401,126h1v41h-1zM410,126h1v41h-1zM242,166h15v1h-15zM401,167h15v1h-15zM401,187h15v1h-15zM110,189h15v1h-15zM415,188h1v41h-1zM406,188h1v41h-1zM410,188h1v41h-1zM401,188h1v41h-1zM401,229h15v1h-15zM115,190h1v46h-1zM119,190h1v46h-1zM110,190h1v46h-1zM124,190h1v46h-1zM110,236h15v1h-15zM198,259h14v1h-14zM202,260h1v41h-1zM211,260h1v41h-1zM207,260h1v41h-1zM198,260h1v41h-1zM198,301h14v1h-14zM401,418h15v1h-15zM415,419h1v41h-1zM406,419h1v41h-1zM410,419h1v41h-1zM401,419h1v41h-1zM401,460h15v1h-15z" fill="#00ffff"/>
<path d="M325,13h1v1h-1zM549,13h1v1h-1zM529,13h7v1h-7zM541,13h5v1h-5zM314,14h3v1h-3zM548,14h1v1h-1zM550,14h1v1h-1zM324,14h1v1h-1zM535,14h1v2h-1zM323,15h1v1h-1zM350,15h5v1h-5zM315,15h1v1h-1zM338,15h5v1h-5zM332,15h5v1h-5zM308,15h6v1h-6zM328,15h1v2h-1zM320,15h1v2h-1zM346,16h4v1h-4zM332,16h1v1h-1zM313,16h2v1h-2zM338,16h1v1h-1zM531,16h5v1h-5zM322,16h1v1h-1zM312,17h1v1h-1zM320,17h9v1h-9zM541,14h1v5h-1zM529,14h1v5h-1zM336,16h1v3h-1zM342,16h1v3h-1zM535,17h1v2h-1zM38,18h1v1h-1zM311,18h2v1h-2zM547,15h1v5h-1zM26,17h1v3h-1zM323,19h1v1h-1zM541,19h3v1h-3zM32,19h7v1h-7zM529,19h7v1h-7zM551,15h1v6h-1zM312,19h1v2h-1zM323,20h4v1h-4zM548,20h1v1h-1zM559,20h7v1h-7zM26,20h6v1h-6zM50,17h1v5h-1zM347,21h8v1h-8zM537,21h1v1h-1zM553,21h7v1h-7zM549,21h3v1h-3zM306,21h12v1h-12zM33,21h1v1h-1zM36,22h1v1h-1zM532,22h1v1h-1zM536,22h1v1h-1zM32,22h1v2h-1zM54,23h1v1h-1zM35,23h1v1h-1zM533,23h1v1h-1zM535,23h1v1h-1zM341,19h1v6h-1zM335,19h1v6h-1zM323,21h1v4h-1zM326,21h1v4h-1zM550,22h1v3h-1zM49,22h1v3h-1zM31,24h1v1h-1zM534,24h1v1h-1zM52,24h3v1h-3zM33,24h2v1h-2zM323,25h4v1h-4zM533,25h2v1h-2zM30,25h3v1h-3zM48,25h4v1h-4zM544,20h1v7h-1zM54,25h1v2h-1zM549,25h1v2h-1zM44,26h5v1h-5zM309,26h1v1h-1zM535,26h1v1h-1zM31,26h1v1h-1zM33,26h2v1h-2zM532,26h1v1h-1zM326,26h1v1h-1zM529,20h1v8h-1zM312,22h1v6h-1zM323,26h1v2h-1zM29,26h1v2h-1zM548,27h1v1h-1zM310,27h1v1h-1zM350,27h6v1h-6zM536,27h1v1h-1zM531,27h1v1h-1zM541,27h3v1h-3zM53,27h2v1h-2zM33,27h1v1h-1zM328,18h1v11h-1zM334,25h1v4h-1zM340,25h1v4h-1zM48,27h1v2h-1zM326,28h1v1h-1zM537,28h1v1h-1zM345,28h5v1h-5zM28,28h1v1h-1zM32,28h1v1h-1zM529,28h2v1h-2zM320,18h1v12h-1zM311,28h2v2h-2zM327,29h2v1h-2zM34,29h1v1h-1zM31,29h1v1h-1zM30,30h1v1h-1zM312,30h1v1h-1zM35,30h1v1h-1zM328,30h1v1h-1zM38,20h1v12h-1zM36,31h1v1h-1zM30,31h2v1h-2zM47,29h1v4h-1zM37,32h2v1h-2zM29,32h1v1h-1zM32,32h1v1h-1zM26,21h1v13h-1zM53,28h1v6h-1zM28,33h1v1h-1zM33,33h1v1h-1zM46,33h1v2h-1zM26,34h2v1h-2zM34,34h1v1h-1zM31,35h1v1h-1zM57,34h1v3h-1zM38,33h1v5h-1zM52,34h1v4h-1zM45,35h1v3h-1zM32,36h1v2h-1zM26,35h1v4h-1zM58,37h1v2h-1zM32,38h7v1h-7zM53,38h1v1h-1zM44,38h1v2h-1zM54,39h5v1h-5zM26,39h6v1h-6zM43,40h1v1h-1zM38,39h1v3h-1zM26,40h1v2h-1zM55,71h1v3h-1zM51,70h1v5h-1zM54,74h1v1h-1zM48,75h7v1h-7zM372,75h1v2h-1zM53,76h6v1h-6zM376,77h3v1h-3zM53,77h2v1h-2zM372,77h3v1h-3zM51,76h1v3h-1zM49,76h1v3h-1zM371,78h2v1h-2zM56,78h2v1h-2zM375,78h1v1h-1zM377,78h1v2h-1zM371,79h5v1h-5zM56,79h1v1h-1zM49,79h3v1h-3zM372,80h2v1h-2zM376,80h1v1h-1zM52,80h4v1h-4zM370,80h1v1h-1zM49,80h1v2h-1zM377,81h1v1h-1zM370,81h6v1h-6zM53,81h2v1h-2zM51,81h1v1h-1zM369,82h1v1h-1zM49,82h6v1h-6zM378,82h1v1h-1zM371,82h5v2h-5zM54,83h1v1h-1zM51,83h1v1h-1zM372,84h1v1h-1zM374,84h3v1h-3zM47,84h8v1h-8zM370,84h1v1h-1zM369,85h1v1h-1zM371,85h7v1h-7zM54,85h1v2h-1zM372,86h1v1h-1zM376,86h5v1h-5zM58,85h1v3h-1zM54,87h2v1h-2zM372,87h5v1h-5zM368,87h1v1h-1zM51,85h1v4h-1zM55,88h4v1h-4zM374,88h3v1h-3zM377,89h1v1h-1zM376,90h1v1h-1zM374,90h1v1h-1zM372,88h1v4h-1zM375,91h1v1h-1zM372,92h2v1h-2zM376,92h2v1h-2zM372,93h1v1h-1zM378,93h1v1h-1zM48,98h3v1h-3zM56,98h1v1h-1zM57,99h2v1h-2zM51,99h1v2h-1zM55,99h1v3h-1zM51,101h2v1h-2zM372,102h1v1h-1zM376,102h6v1h-6zM51,102h1v2h-1zM502,103h1v1h-1zM372,103h4v1h-4zM58,100h1v5h-1zM503,104h1v1h-1zM49,104h2v1h-2zM483,104h1v2h-1zM190,104h1v2h-1zM503,105h7v1h-7zM187,105h1v1h-1zM194,105h1v1h-1zM372,104h1v3h-1zM51,105h1v2h-1zM476,106h8v1h-8zM187,106h8v1h-8zM377,106h5v1h-5zM57,105h1v3h-1zM372,107h5v1h-5zM490,106h1v3h-1zM193,107h1v2h-1zM504,108h1v1h-1zM493,103h1v7h-1zM52,107h1v3h-1zM489,109h1v1h-1zM504,109h4v1h-4zM191,109h4v1h-4zM175,104h1v7h-1zM372,108h1v3h-1zM56,108h1v3h-1zM177,109h1v2h-1zM489,110h9v1h-9zM179,105h1v7h-1zM190,110h1v2h-1zM51,110h1v2h-1zM175,111h2v1h-2zM55,111h1v1h-1zM187,107h1v6h-1zM172,109h1v4h-1zM504,110h1v3h-1zM507,110h1v3h-1zM489,111h1v2h-1zM48,112h3v1h-3zM177,112h7v1h-7zM174,112h1v1h-1zM55,112h4v1h-4zM190,112h6v1h-6zM483,107h1v7h-1zM493,111h1v3h-1zM174,113h2v1h-2zM488,113h1v1h-1zM504,113h4v1h-4zM186,113h5v1h-5zM371,111h1v4h-1zM482,114h2v1h-2zM190,114h1v1h-1zM488,114h10v1h-10zM174,114h1v2h-1zM176,114h1v2h-1zM504,114h1v2h-1zM507,114h1v2h-1zM191,115h3v1h-3zM483,115h1v1h-1zM189,115h1v1h-1zM376,108h1v9h-1zM186,114h1v3h-1zM374,116h1v1h-1zM504,116h4v1h-4zM193,116h1v1h-1zM370,115h1v3h-1zM177,116h1v2h-1zM375,117h2v1h-2zM509,106h1v13h-1zM479,107h1v12h-1zM173,116h1v3h-1zM188,117h1v2h-1zM185,117h1v2h-1zM376,118h1v1h-1zM179,113h1v7h-1zM493,115h1v5h-1zM192,117h1v3h-1zM369,118h1v2h-1zM508,119h2v1h-2zM187,119h1v1h-1zM183,119h2v1h-2zM475,119h11v1h-11zM190,119h1v1h-1zM501,107h1v14h-1zM172,119h1v2h-1zM176,120h9v1h-9zM509,120h1v1h-1zM487,120h13v1h-13zM191,120h1v2h-1zM186,120h1v2h-1zM54,124h2v2h-2zM55,126h1v1h-1zM53,126h1v2h-1zM56,127h1v4h-1zM52,128h1v3h-1zM51,131h1v2h-1zM57,131h1v5h-1zM50,133h1v3h-1zM58,136h1v2h-1zM49,136h1v2h-1zM58,138h3v1h-3zM48,138h1v2h-1zM508,227h1v2h-1zM496,227h1v2h-1zM506,228h1v1h-1zM512,228h1v1h-1zM485,228h1v1h-1zM484,229h1v1h-1zM506,229h7v1h-7zM495,229h1v2h-1zM506,230h1v1h-1zM483,230h1v1h-1zM480,227h1v5h-1zM512,230h1v2h-1zM505,231h1v1h-1zM482,231h1v1h-1zM494,231h1v2h-1zM480,232h2v1h-2zM505,232h8v1h-8zM493,233h1v1h-1zM507,233h2v1h-2zM480,233h1v2h-1zM505,233h1v2h-1zM490,234h12v1h-12zM509,234h1v1h-1zM505,235h9v1h-9zM477,235h12v1h-12zM498,235h1v1h-1zM494,235h1v2h-1zM480,236h2v1h-2zM508,236h1v1h-1zM497,236h1v2h-1zM508,237h2v1h-2zM495,237h1v1h-1zM505,236h1v3h-1zM482,237h1v2h-1zM496,238h1v1h-1zM606,238h4v1h-4zM509,238h4v1h-4zM495,239h2v1h-2zM483,239h1v1h-1zM611,239h1v1h-1zM602,239h5v1h-5zM507,238h1v3h-1zM511,239h1v2h-1zM504,239h1v2h-1zM495,240h1v1h-1zM497,240h1v1h-1zM602,240h1v1h-1zM606,240h6v1h-6zM484,240h1v2h-1zM506,241h1v1h-1zM608,241h3v1h-3zM494,241h1v1h-1zM498,241h1v1h-1zM602,241h5v1h-5zM503,241h1v2h-1zM510,241h1v2h-1zM499,242h1v1h-1zM505,242h1v1h-1zM610,242h1v1h-1zM485,242h4v1h-4zM602,242h6v1h-6zM508,242h1v1h-1zM480,237h1v7h-1zM493,242h1v2h-1zM500,243h1v1h-1zM604,243h6v1h-6zM602,243h1v1h-1zM504,243h1v2h-1zM509,243h1v2h-1zM492,244h1v1h-1zM603,244h1v1h-1zM606,244h4v1h-4zM604,245h6v1h-6zM607,246h3v1h-3zM604,246h1v1h-1zM604,247h3v1h-3zM603,248h1v1h-1zM607,248h4v1h-4zM609,249h1v1h-1zM603,249h4v1h-4zM603,250h2v2h-2zM607,250h2v3h-2zM602,252h1v2h-1zM604,252h1v2h-1zM606,253h1v1h-1zM22,252h1v3h-1zM17,253h1v2h-1zM609,253h1v2h-1zM604,254h2v1h-2zM601,254h1v2h-1zM604,255h1v1h-1zM21,255h1v1h-1zM18,255h1v1h-1zM610,255h2v1h-2zM17,256h6v1h-6zM17,257h1v1h-1zM17,258h3v1h-3zM22,257h1v5h-1zM17,259h1v3h-1zM17,262h6v1h-6zM17,263h1v1h-1zM608,265h4v1h-4zM603,265h1v1h-1zM18,264h1v3h-1zM604,266h1v1h-1zM602,266h1v1h-1zM17,267h1v1h-1zM20,263h1v6h-1zM25,265h1v4h-1zM16,268h1v1h-1zM20,269h6v1h-6zM15,269h1v1h-1zM14,270h1v1h-1zM608,266h1v6h-1zM601,267h1v6h-1zM605,267h1v6h-1zM608,272h3v1h-3zM602,273h4v1h-4zM605,274h1v3h-1zM604,277h1v1h-1zM611,273h1v6h-1zM603,278h1v1h-1zM602,279h1v1h-1zM607,279h4v1h-4zM24,280h1v1h-1zM23,281h2v2h-2zM22,283h1v1h-1zM16,280h1v5h-1zM18,284h1v6h-1zM15,285h1v5h-1zM14,290h6v1h-6zM602,292h10v1h-10zM24,283h1v12h-1zM18,291h1v4h-1zM605,293h1v4h-1zM602,297h9v1h-9zM114,297h1v2h-1zM141,297h1v2h-1zM145,298h1v1h-1zM138,298h1v1h-1zM138,299h8v1h-8zM115,299h1v2h-1zM144,300h1v2h-1zM141,302h4v1h-4zM128,297h1v7h-1zM605,298h1v6h-1zM610,298h1v6h-1zM111,303h9v1h-9zM141,303h1v2h-1zM127,304h2v1h-2zM601,304h12v1h-12zM138,300h1v6h-1zM141,305h6v1h-6zM127,305h1v1h-1zM129,305h1v2h-1zM137,306h5v1h-5zM115,304h1v4h-1zM126,306h1v2h-1zM141,307h1v1h-1zM130,307h1v2h-1zM142,308h3v1h-3zM112,308h7v1h-7zM140,308h1v1h-1zM19,304h1v6h-1zM137,307h1v3h-1zM22,307h1v3h-1zM125,308h1v2h-1zM144,309h1v1h-1zM131,309h1v2h-1zM15,310h8v1h-8zM139,310h1v2h-1zM136,310h1v2h-1zM124,310h1v2h-1zM115,309h1v4h-1zM143,310h1v3h-1zM132,311h1v2h-1zM19,311h1v2h-1zM138,312h1v1h-1zM135,312h1v1h-1zM141,312h1v1h-1zM123,312h1v2h-1zM110,313h11v1h-11zM133,313h3v1h-3zM142,313h1v2h-1zM18,313h1v2h-1zM137,313h1v2h-1zM122,314h1v1h-1zM17,315h1v1h-1zM22,311h1v7h-1zM16,316h1v2h-1zM26,315h1v4h-1zM23,318h1v1h-1zM15,318h1v2h-1zM23,319h4v1h-4zM14,320h1v1h-1zM309,346h1v1h-1zM324,346h6v1h-6zM320,346h1v2h-1zM310,347h1v1h-1zM310,348h5v1h-5zM306,348h1v1h-1zM320,348h5v1h-5zM314,349h1v1h-1zM306,349h4v1h-4zM320,349h1v2h-1zM308,350h1v1h-1zM312,350h2v1h-2zM320,351h10v1h-10zM308,351h2v1h-2zM311,351h3v1h-3zM305,350h1v3h-1zM307,352h4v1h-4zM308,353h2v1h-2zM306,353h1v1h-1zM305,354h1v1h-1zM309,354h1v1h-1zM320,352h1v4h-1zM308,355h1v1h-1zM310,355h1v1h-1zM307,356h1v1h-1zM311,356h2v1h-2zM312,357h2v1h-2zM306,357h1v1h-1zM305,358h1v1h-1zM314,358h2v1h-2zM307,358h5v1h-5zM319,356h1v4h-1zM304,359h1v1h-1zM324,352h1v9h-1zM307,359h1v2h-1zM311,359h1v2h-1zM322,360h1v1h-1zM318,360h1v2h-1zM308,361h1v1h-1zM310,361h3v1h-3zM323,361h2v2h-2zM308,362h2v1h-2zM317,362h1v2h-1zM308,363h1v1h-1zM324,363h1v1h-1zM498,431h1v2h-1zM485,432h1v1h-1zM485,433h3v1h-3zM491,433h1v1h-1zM489,433h1v1h-1zM497,433h1v2h-1zM489,434h3v1h-3zM485,434h1v1h-1zM499,434h1v2h-1zM485,435h2v1h-2zM496,435h1v2h-1zM489,435h1v2h-1zM491,435h1v2h-1zM485,436h1v1h-1zM500,436h1v2h-1zM485,437h2v1h-2zM495,437h1v1h-1zM489,437h3v1h-3zM495,438h8v1h-8zM485,438h1v1h-1zM489,438h1v1h-1zM487,438h1v1h-1zM491,438h1v1h-1zM485,439h3v1h-3zM489,439h3v1h-3zM496,439h2v1h-2zM487,440h1v1h-1zM489,440h1v2h-1zM491,440h1v2h-1zM499,440h1v3h-1zM489,442h3v1h-3zM496,440h1v4h-1zM489,443h1v1h-1zM491,443h1v1h-1zM498,443h4v1h-4zM485,440h1v5h-1zM496,444h2v1h-2zM522,486h1v1h-1zM288,486h1v2h-1zM518,487h9v1h-9zM545,487h1v2h-1zM287,488h1v1h-1zM318,488h1v1h-1zM313,488h1v1h-1zM531,488h1v1h-1zM521,488h2v2h-2zM94,489h1v1h-1zM287,489h7v1h-7zM106,489h1v1h-1zM115,489h1v1h-1zM317,489h1v1h-1zM319,489h2v1h-2zM518,488h1v3h-1zM527,488h1v3h-1zM312,489h1v2h-1zM530,489h2v2h-2zM546,489h1v2h-1zM102,489h1v2h-1zM95,490h2v1h-2zM287,490h1v1h-1zM522,490h1v1h-1zM324,490h9v1h-9zM106,490h10v1h-10zM87,487h1v5h-1zM536,488h1v4h-1zM85,491h1v1h-1zM90,491h1v1h-1zM518,491h10v1h-10zM547,491h1v1h-1zM111,491h1v1h-1zM529,491h1v1h-1zM286,491h1v2h-1zM311,491h1v2h-1zM101,491h1v2h-1zM527,492h1v1h-1zM522,492h1v1h-1zM85,492h6v1h-6zM518,492h1v1h-1zM546,492h6v1h-6zM82,488h1v6h-1zM110,492h2v2h-2zM541,493h5v1h-5zM310,493h1v1h-1zM85,493h1v1h-1zM285,493h1v1h-1zM518,493h10v1h-10zM320,490h1v5h-1zM316,490h1v5h-1zM290,490h1v5h-1zM115,491h1v4h-1zM535,492h1v3h-1zM90,493h1v2h-1zM100,493h1v2h-1zM87,493h1v2h-1zM522,494h1v1h-1zM80,494h6v1h-6zM310,494h2v1h-2zM93,490h1v6h-1zM96,491h1v5h-1zM111,494h1v2h-1zM99,495h2v1h-2zM114,495h2v1h-2zM317,495h3v1h-3zM312,495h2v1h-2zM85,495h6v1h-6zM284,495h13v1h-13zM547,495h1v1h-1zM525,494h1v3h-1zM109,494h1v3h-1zM519,494h1v3h-1zM545,495h1v2h-1zM319,496h1v1h-1zM101,496h2v1h-2zM317,496h1v1h-1zM94,496h2v1h-2zM307,493h1v5h-1zM548,496h1v2h-1zM85,496h1v2h-1zM90,496h1v2h-1zM87,496h1v2h-1zM112,496h2v2h-2zM518,497h9v1h-9zM534,495h1v4h-1zM82,495h1v4h-1zM537,496h1v3h-1zM544,497h1v2h-1zM84,498h7v1h-7zM112,498h1v1h-1zM525,498h1v1h-1zM519,498h1v1h-1zM106,491h1v9h-1zM108,497h1v3h-1zM549,498h1v2h-1zM328,499h7v1h-7zM516,499h13v1h-13zM82,499h2v1h-2zM90,499h1v1h-1zM534,499h5v1h-5zM302,487h1v14h-1zM115,496h1v5h-1zM306,498h1v3h-1zM543,499h1v2h-1zM85,499h1v2h-1zM81,500h2v1h-2zM521,500h1v1h-1zM322,500h6v1h-6zM106,500h2v1h-2zM523,500h1v1h-1zM298,493h1v9h-1zM310,495h1v7h-1zM314,496h1v6h-1zM103,497h1v5h-1zM320,497h1v5h-1zM316,497h1v5h-1zM96,497h1v5h-1zM550,500h1v2h-1zM520,501h1v1h-1zM302,501h5v1h-5zM80,501h1v1h-1zM106,501h10v1h-10zM531,491h1v12h-1zM99,496h1v7h-1zM93,497h1v6h-1zM537,500h1v3h-1zM542,501h1v2h-1zM524,501h1v2h-1zM95,502h2v1h-2zM319,502h1v1h-1zM298,502h5v1h-5zM519,502h1v1h-1zM311,502h3v1h-3zM115,502h1v1h-1zM317,502h1v1h-1zM551,502h1v1h-1zM102,502h1v1h-1zM290,496h1v8h-1zM306,502h1v2h-1zM106,502h1v2h-1zM94,503h1v1h-1zM541,503h1v1h-1zM318,503h1v1h-1zM525,503h1v1h-1zM100,503h2v1h-2zM518,503h1v1h-1zM517,504h1v1h-1zM87,499h1v7h-1z" fill="#00ff00"/>
</svg>
</body></html>
